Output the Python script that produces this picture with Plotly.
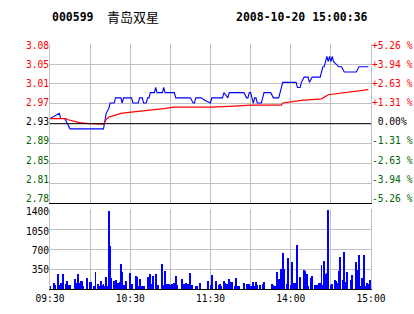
import plotly.graph_objects as go

# ---------------- data ----------------
stock_code = "000599"
stock_name = "青岛双星"
timestamp = "2008-10-20 15:00:36"
prev_close = 2.93

pct_levels = [-5.26, -3.94, -2.63, -1.31, 0.00, 1.31, 2.63, 3.94, 5.26]
price_labels = ["2.78", "2.81", "2.85", "2.89", "2.93", "2.97", "3.01", "3.05", "3.08"]
pct_labels = ["-5.26 %", "-3.94 %", "-2.63 %", "-1.31 %", " 0.00%", "+1.31 %", "+2.63 %", "+3.94 %", "+5.26 %"]

grid_times = ["09:30", "10:00", "10:30", "11:00", "11:30", "13:30", "14:00", "14:30", "15:00"]
grid_labels = ["09:30", "", "10:30", "", "11:30", "", "14:00", "", "15:00"]

vol_ticks = [350, 700, 1050, 1400]
vol_labels = ["350", "700", "1050", "1400"]

price_times = ["09:30", "09:37", "09:38", "09:41", "09:42", "09:43", "09:44", "09:45", "10:10", "10:11",
               "10:12", "10:14", "10:15", "10:18", "10:19", "10:23", "10:24", "10:25", "10:31", "10:32",
               "10:36", "10:37", "10:39", "10:40", "10:42", "10:43", "10:44", "10:45", "10:48", "10:49",
               "10:50", "10:54", "10:55", "10:56", "11:03", "11:04", "11:15", "11:17", "11:18", "11:19",
               "11:23", "11:26", "11:30", "13:01", "13:09", "13:10", "13:13", "13:14", "13:25", "13:27",
               "13:28", "13:29", "13:30", "13:31", "13:32", "13:33", "13:34", "13:35", "13:38", "13:39",
               "13:40", "13:45", "13:47", "13:51", "13:52", "13:53", "13:54", "14:04", "14:05", "14:07",
               "14:08", "14:10", "14:13", "14:14", "14:16", "14:22", "14:23", "14:24", "14:25", "14:26",
               "14:27", "14:28", "14:29", "14:30", "14:31", "14:32", "14:34", "14:36", "14:38", "14:40",
               "14:49", "14:51", "14:58"]
price_vals = [2.94, 2.95, 2.94, 2.94, 2.935, 2.93, 2.925, 2.92, 2.92, 2.935,
              2.95, 2.96, 2.97, 2.97, 2.98, 2.98, 2.97, 2.98, 2.98, 2.97,
              2.97, 2.98, 2.98, 2.97, 2.97, 2.98, 2.98, 2.99, 2.99, 3.00,
              2.99, 2.99, 3.00, 2.99, 2.99, 2.98, 2.98, 2.97, 2.97, 2.98,
              2.98, 2.975, 2.97, 2.98, 2.98, 2.99, 2.98, 2.99, 2.99, 2.98,
              2.98, 2.99, 2.99, 2.98, 2.97, 2.98, 2.98, 2.97, 2.97, 2.98,
              2.99, 2.99, 2.98, 2.98, 2.99, 3.00, 3.01, 3.01, 3.00, 3.00,
              3.01, 3.02, 3.02, 3.01, 3.02, 3.02, 3.03, 3.04, 3.04, 3.05,
              3.06, 3.05, 3.06, 3.05, 3.06, 3.05, 3.045, 3.04, 3.04, 3.03,
              3.03, 3.04, 3.04]

avg_times = ["09:30", "09:42", "09:43", "09:48", "09:52", "09:59", "10:04", "10:10", "10:12", "10:14",
             "10:17", "10:22", "10:23", "10:29", "10:37", "10:45", "10:53", "10:55", "11:03", "11:30",
             "13:18", "13:30", "13:53", "13:54", "14:08", "14:23", "14:28", "14:58"]
avg_vals = [2.940, 2.940, 2.938, 2.934, 2.932, 2.930, 2.929, 2.929, 2.938, 2.943,
            2.945, 2.948, 2.950, 2.952, 2.954, 2.956, 2.958, 2.959, 2.962, 2.962,
            2.964, 2.966, 2.966, 2.970, 2.975, 2.978, 2.986, 2.996]

vol_times = ["09:30", "09:33", "09:34", "09:36", "09:37", "09:38", "09:39", "09:40", "09:42", "09:43",
             "09:44", "09:45", "09:49", "09:50", "09:51", "09:52", "09:53", "09:54", "09:55", "09:58",
             "10:00", "10:01", "10:03", "10:04", "10:06", "10:07", "10:08", "10:09", "10:10", "10:11",
             "10:12", "10:13", "10:14", "10:15", "10:16", "10:18", "10:19", "10:20", "10:21", "10:22",
             "10:23", "10:24", "10:25", "10:27", "10:30", "10:31", "10:34", "10:35", "10:36", "10:37",
             "10:39", "10:40", "10:43", "10:45", "10:46", "10:47", "10:49", "10:50", "10:51", "10:54",
             "10:55", "10:56", "10:57", "10:58", "10:59", "11:00", "11:01", "11:03", "11:04", "11:05",
             "11:09", "11:10", "11:11", "11:12", "11:13", "11:15", "11:16", "11:19", "11:20", "11:22",
             "11:28", "11:30", "13:01", "13:04", "13:06", "13:07", "13:08", "13:10", "13:11", "13:12",
             "13:13", "13:14", "13:15", "13:16", "13:18", "13:19", "13:20", "13:21", "13:25", "13:27",
             "13:28", "13:29", "13:30", "13:31", "13:32", "13:33", "13:34", "13:35", "13:37", "13:39",
             "13:40", "13:46", "13:47", "13:48", "13:49", "13:50", "13:51", "13:52", "13:53", "13:54",
             "13:55", "13:57", "13:58", "14:00", "14:01", "14:02", "14:03", "14:04", "14:05", "14:07",
             "14:10", "14:11", "14:12", "14:13", "14:15", "14:16", "14:18", "14:19", "14:20", "14:21",
             "14:22", "14:23", "14:24", "14:25", "14:26", "14:27", "14:28", "14:30", "14:31", "14:33",
             "14:34", "14:35", "14:36", "14:37", "14:39", "14:40", "14:41", "14:42", "14:45", "14:46",
             "14:49", "14:50", "14:51", "14:52", "14:53", "14:54", "14:55", "14:56", "14:57", "14:58",
             "14:59"]
vol_vals = [40, 107, 60, 250, 70, 107, 36, 250, 80, 130,
            60, 60, 166, 107, 250, 95, 130, 142, 40, 184,
            113, 113, 40, 290, 77, 53, 130, 60, 77, 53,
            200, 40, 1364, 753, 184, 130, 148, 60, 95, 113,
            433, 290, 70, 130, 273, 84, 219, 201, 40, 166,
            40, 40, 201, 255, 84, 219, 255, 40, 60, 433,
            60, 308, 77, 77, 77, 60, 77, 95, 219, 60,
            166, 77, 60, 95, 77, 273, 60, 40, 40, 95,
            130, 60, 237, 142, 60, 77, 40, 142, 95, 77,
            60, 166, 113, 113, 40, 184, 40, 40, 95, 77,
            77, 77, 40, 40, 113, 40, 113, 60, 60, 77,
            113, 77, 60, 40, 40, 290, 166, 166, 344, 628,
            344, 77, 540, 60, 468, 95, 95, 60, 771, 201,
            326, 308, 255, 40, 184, 219, 60, 60, 60, 95,
            95, 415, 60, 486, 255, 273, 1382, 60, 77, 148,
            130, 95, 308, 557, 148, 646, 113, 290, 148, 237,
            468, 326, 593, 40, 184, 77, 593, 40, 95, 77,
            148]

# ---------------- helpers ----------------
def trade_minute(t):
    h, m = map(int, t.split(":"))
    tm = h * 60 + m
    if tm <= 11 * 60 + 30:
        return tm - (9 * 60 + 30)
    return tm - 13 * 60 + 120

RED = "#FF0000"
GREEN = "#006400"
GRID = "#C0C0C0"
MONO = "DejaVu Sans Mono"
FS = 9.6

W, H = 414, 314
M_L, M_R, M_T, M_B = 50, 43, 44, 25
PRICE_DOM = [0.3494, 1.0]
VOL_DOM = [0.0, 0.3249]
plot_h = H - M_T - M_B


def label_range(lo_val, hi_val, dom, top_nudge_px, bot_nudge_px):
    """Range for a label-only axis so the top / bottom labels sit nudged inward."""
    span_px = (dom[1] - dom[0]) * plot_h
    r = (hi_val - lo_val) / (1 - (top_nudge_px + bot_nudge_px) / span_px)
    return [lo_val - bot_nudge_px * r / span_px, hi_val + top_nudge_px * r / span_px]


def color_for(p):
    return RED if p > 0 else (GREEN if p < 0 else "#000000")


price_ticks = [prev_close * (1 + p / 100) for p in pct_levels]
price_ticktext = [f"<span style='color:{color_for(p)}'>{t}</span>" for p, t in zip(pct_levels, price_labels)]
pct_ticktext = [f"<span style='color:{color_for(p)}'>{t}</span>" for p, t in zip(pct_levels, pct_labels)]
grid_x = [trade_minute(t) for t in grid_times]

price_lbl_range = label_range(price_ticks[0], price_ticks[-1], PRICE_DOM, 1.7, 5.0)
pct_lbl_range = label_range(pct_levels[0], pct_levels[-1], PRICE_DOM, 1.7, 5.0)
vol_lbl_range = label_range(0, vol_ticks[-1], VOL_DOM, 2.7, 0)

fig = go.Figure()
fig.add_trace(go.Scatter(x=[trade_minute(t) for t in price_times], y=price_vals, mode="lines",
                         line=dict(color="#0000FF", width=1.1), xaxis="x2", yaxis="y"))
fig.add_trace(go.Scatter(x=[trade_minute(t) for t in avg_times], y=avg_vals, mode="lines",
                         line=dict(color="#FF0000", width=1.2), xaxis="x2", yaxis="y"))
fig.add_trace(go.Bar(x=[trade_minute(t) for t in vol_times], y=vol_vals, width=0.7,
                     marker=dict(color="#0000FF", line=dict(width=0)), xaxis="x", yaxis="y2"))
# invisible helpers so the label axes render
for ya, xa in (("y3", "x2"), ("y4", "x2"), ("y5", "x")):
    fig.add_trace(go.Scatter(x=[None], y=[None], mode="markers", xaxis=xa, yaxis=ya, hoverinfo="skip"))

fig.add_shape(type="line", xref="x2 domain", yref="y", x0=0, x1=1, y0=prev_close, y1=prev_close,
              line=dict(color="black", width=1))

ax_common = dict(range=[0, 240], tickvals=grid_x, showgrid=True, gridcolor=GRID, gridwidth=1,
                 zeroline=False, ticks="", showline=True, linecolor="black", linewidth=1, automargin=False)
lbl_common = dict(showgrid=False, zeroline=False, ticks="", showline=False, automargin=False,
                  tickfont=dict(family=MONO, size=FS, color="black"))

fig.update_layout(
    width=W, height=H, autosize=False,
    margin=dict(l=M_L, r=M_R, t=M_T, b=M_B, pad=0),
    paper_bgcolor="white", plot_bgcolor="white",
    showlegend=False, bargap=0,
    font=dict(family=MONO, size=FS, color="black"),
    xaxis=dict(anchor="y2", ticktext=grid_labels, tickfont=dict(family=MONO, size=FS, color="black"),
               **ax_common),
    xaxis2=dict(anchor="y", matches="x", showticklabels=False, **ax_common),
    yaxis=dict(domain=PRICE_DOM, range=[price_ticks[0], price_ticks[-1]], tickvals=price_ticks,
               showticklabels=False, showgrid=True, gridcolor=GRID, zeroline=False, ticks="",
               showline=True, linecolor=GRID, mirror=True, anchor="x2", automargin=False),
    yaxis3=dict(overlaying="y", side="left", anchor="x2", range=price_lbl_range,
                tickvals=price_ticks, ticktext=price_ticktext, **lbl_common),
    yaxis4=dict(overlaying="y", side="right", anchor="x2", range=pct_lbl_range,
                tickvals=pct_levels, ticktext=pct_ticktext, **lbl_common),
    yaxis2=dict(domain=VOL_DOM, range=[0, vol_ticks[-1]], tickvals=vol_ticks, showticklabels=False,
                showgrid=True, gridcolor=GRID, zeroline=False, ticks="", showline=True,
                linecolor=GRID, mirror=True, anchor="x", automargin=False),
    yaxis5=dict(overlaying="y2", side="left", anchor="x", range=vol_lbl_range,
                tickvals=vol_ticks, ticktext=vol_labels, **lbl_common),
)

fig.add_annotation(xref="paper", yref="paper", x=0.0, y=1.112, xanchor="left", yanchor="middle",
                   text=f"<b>{stock_code}</b>", showarrow=False,
                   font=dict(family=MONO, size=11.5, color="black"))
fig.add_annotation(xref="paper", yref="paper", x=0.171, y=1.112, xanchor="left", yanchor="middle",
                   text=stock_name, showarrow=False,
                   font=dict(family="Noto Sans CJK SC", size=13, color="black"))
fig.add_annotation(xref="paper", yref="paper", x=0.997, y=1.112, xanchor="right", yanchor="middle",
                   text=f"<b>{timestamp}</b>", showarrow=False,
                   font=dict(family=MONO, size=11.5, color="black"))

fig.write_html("out.html")
